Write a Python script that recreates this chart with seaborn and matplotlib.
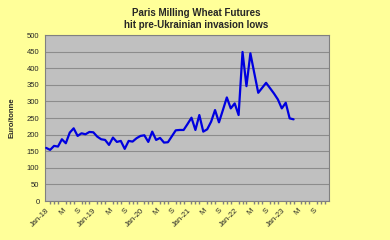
import matplotlib
matplotlib.use("Agg")
import matplotlib.pyplot as plt
import seaborn as sns
import pandas as pd
import numpy as np

# Monthly prices, Jan-2018 .. Apr-2023 (Euro/tonne)
prices = [160, 154, 166, 164, 186, 174, 206, 219, 196, 204, 201, 208,
          207, 194, 186, 184, 169, 191, 178, 181, 157, 181, 179, 189,
          196, 198, 178, 209, 184, 190, 176, 177, 195, 213, 214, 214,
          232, 251, 214, 259, 209, 216, 239, 274, 237, 274, 312, 279,
          294, 259, 449, 346, 445, 385, 326, 341, 356, 340, 324, 306,
          279, 296, 249, 246]
months = list(range(len(prices)))
tick_pos = list(range(0, 72, 4))
tick_labels = ["Jan-18", "M", "S", "Jan-19", "M", "S", "Jan-20", "M", "S",
               "Jan-21", "M", "S", "Jan-22", "M", "S", "Jan-23", "M", "S"]
y_ticks = [0, 50, 100, 150, 200, 250, 300, 350, 400, 450, 500]
title = "Paris Milling Wheat Futures\nhit pre-Ukrainian invasion lows"

df = pd.DataFrame({"month": months, "price": prices})

sns.set_theme(style="white")
plt.rcParams["font.family"] = ["Liberation Sans", "DejaVu Sans"]

fig = plt.figure(figsize=(3.9, 2.4), dpi=100)
fig.patch.set_facecolor("#FFFF99")
ax = fig.add_axes([0.1154, 0.1625, 0.728, 0.6915])
ax.set_facecolor("#C0C0C0")

sns.lineplot(data=df, x="month", y="price", ax=ax, color="#0000E0",
             linewidth=1.6, zorder=3)

ax.set_xlim(-0.3, 72)
ax.set_ylim(0, 500)
ax.set_yticks(y_ticks)
ax.set_yticklabels([str(v) for v in y_ticks], fontsize=5.5)
ax.yaxis.grid(True, color="#8C8C8C", linewidth=0.8)
ax.xaxis.grid(False)

ax.set_xticks(tick_pos)
ax.set_xticklabels(tick_labels, rotation=45, ha="right", rotation_mode="anchor",
                   fontsize=5.5)
ax.set_xticks(np.arange(0, 72, 1), minor=True)
ax.tick_params(axis="x", which="major", length=3, color="#808080", pad=1.5)
ax.tick_params(axis="x", which="minor", length=2, color="#808080", bottom=True)
ax.tick_params(axis="y", length=0, pad=4)

for s in ax.spines.values():
    s.set_color("#808080")
    s.set_linewidth(0.8)

ax.set_xlabel("")
ax.set_ylabel("Euro/tonne", fontsize=5.5, fontweight="bold", labelpad=8)
fig.text(0.502, 0.965, title, ha="center", va="top", fontsize=7,
         fontweight="bold", linespacing=1.2)

fig.savefig("out.png", dpi=100, facecolor=fig.get_facecolor())
